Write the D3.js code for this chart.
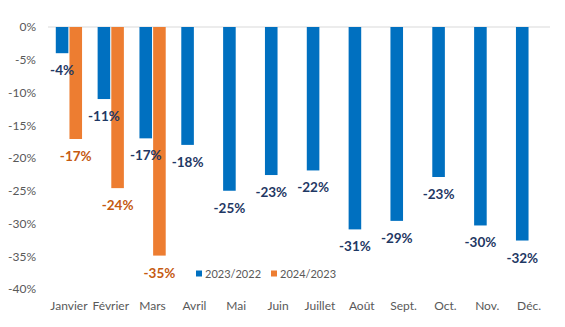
<!DOCTYPE html>
<html>
<head>
<meta charset="utf-8">
<script src="https://cdn.jsdelivr.net/npm/d3@7"></script>
<style>
  body { margin: 0; background: #fff; }
  svg text { font-family: Lato, "Open Sans", sans-serif; }
</style>
</head>
<body>
<div id="chart"></div>
<script>
// Months and the two yearly comparisons (values in %)
const months = ["Janvier", "Février", "Mars", "Avril", "Mai", "Juin", "Juillet", "Août", "Sept.", "Oct.", "Nov.", "Déc."];
const series = ["2023/2022", "2024/2023"];
const values2023 = [-4, -11, -17, -18, -25, -22.6, -21.9, -30.9, -29.6, -22.9, -30.3, -32.6];
const values2024 = [-17.1, -24.6, -34.9, null, null, null, null, null, null, null, null, null];
const labels2023 = ["-4%", "-11%", "-17%", "-18%", "-25%", "-23%", "-22%", "-31%", "-29%", "-23%", "-30%", "-32%"];
const labels2024 = ["-17%", "-24%", "-35%"];
const yTicks = [0, -5, -10, -15, -20, -25, -30, -35, -40];

const colors = { "2023/2022": "#0070C0", "2024/2023": "#ED7D31" };
const labelColors = { "2023/2022": "#1F3864", "2024/2023": "#C55A11" };

const width = 565, height = 327;
const margin = { top: 27, right: 15, bottom: 38, left: 48 };

const svg = d3.select("#chart").append("svg")
    .attr("width", width)
    .attr("height", height);

const x0 = d3.scaleBand()
    .domain(months)
    .range([margin.left, width - margin.right])
    .paddingInner(0.32)
    .paddingOuter(0.16);

const x1 = d3.scaleBand()
    .domain(series)
    .range([0, x0.bandwidth()])
    .padding(0.08);

const y = d3.scaleLinear()
    .domain([0, -40])
    .range([margin.top, height - margin.bottom]);

// Y axis labels
const yAxis = d3.axisLeft(y)
    .tickValues(yTicks)
    .tickSize(0)
    .tickPadding(12)
    .tickFormat(d => `${d}%`);

svg.append("g")
    .attr("transform", `translate(${margin.left},0)`)
    .call(yAxis)
    .call(g => g.select(".domain").remove())
    .call(g => g.selectAll("text")
        .attr("fill", "#595959")
        .style("font-size", "12px"));

// Zero line
svg.append("line")
    .attr("x1", margin.left)
    .attr("x2", width - margin.right)
    .attr("y1", y(0))
    .attr("y2", y(0))
    .attr("stroke", "#d9d9d9")
    .attr("stroke-width", 1);

// X axis labels
const xAxis = d3.axisBottom(x0).tickSize(0).tickPadding(0);
svg.append("g")
    .attr("transform", `translate(0,${height - margin.bottom + 12})`)
    .call(xAxis)
    .call(g => g.select(".domain").remove())
    .call(g => g.selectAll("text")
        .attr("fill", "#595959")
        .style("font-size", "12px"));

// Bars + labels
const rows = months.map((m, i) => ({
    month: m,
    bars: [
        { key: "2023/2022", value: values2023[i], label: labels2023[i] },
        { key: "2024/2023", value: values2024[i], label: labels2024[i] }
    ].filter(d => d.value != null)
}));

const groups = svg.append("g").selectAll("g")
    .data(rows)
    .enter()
    .append("g")
    .attr("transform", d => `translate(${x0(d.month)},0)`);

groups.selectAll("rect")
    .data(d => d.bars)
    .enter()
    .append("rect")
    .attr("x", d => x1(d.key))
    .attr("y", y(0))
    .attr("width", x1.bandwidth())
    .attr("height", d => y(d.value) - y(0))
    .attr("fill", d => colors[d.key]);

groups.selectAll("text")
    .data(d => d.bars)
    .enter()
    .append("text")
    .attr("x", d => x1(d.key) + x1.bandwidth() / 2)
    .attr("y", d => y(d.value) + 22)
    .attr("text-anchor", "middle")
    .attr("fill", d => labelColors[d.key])
    .style("font-size", "13.5px")
    .style("font-weight", "bold")
    .text(d => d.label);

// Legend
const legend = svg.append("g")
    .attr("transform", `translate(196,274)`);

const item = legend.selectAll("g")
    .data(series)
    .enter()
    .append("g")
    .attr("transform", (d, i) => `translate(${i * 75},0)`);

item.append("rect")
    .attr("x", 0)
    .attr("y", -3.5)
    .attr("width", 6)
    .attr("height", 6)
    .attr("fill", d => colors[d]);

item.append("text")
    .attr("x", 9)
    .attr("y", 4)
    .attr("fill", "#595959")
    .style("font-size", "11px")
    .text(d => d);
</script>
</body>
</html>
